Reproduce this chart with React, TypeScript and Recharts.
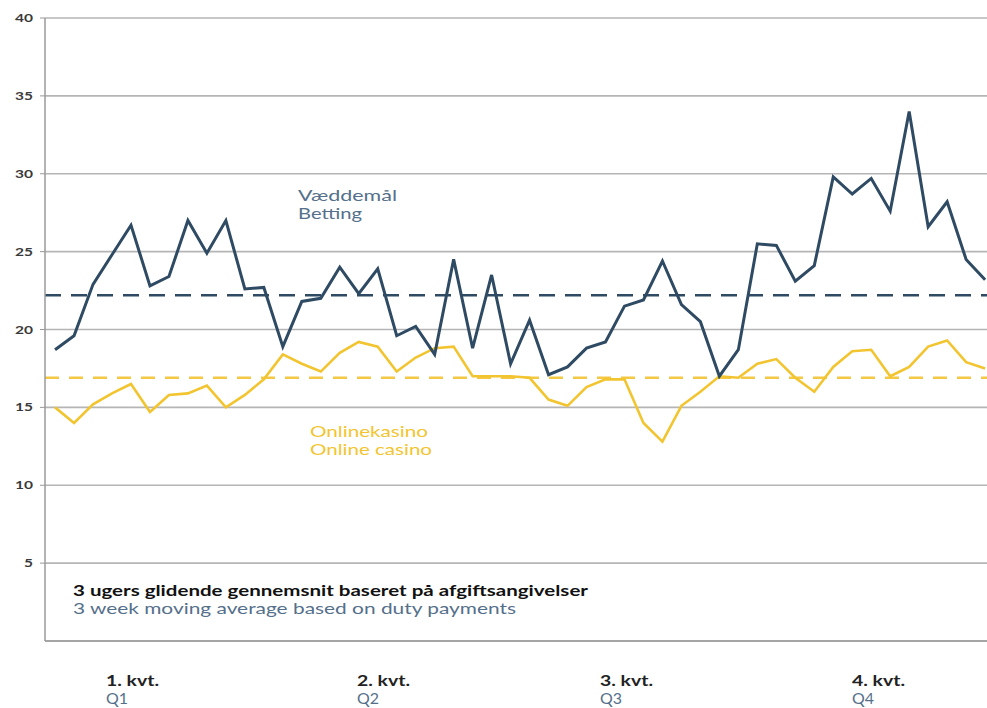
import React from "react";
import { LineChart, Line, XAxis, YAxis, CartesianGrid, ReferenceLine } from "recharts";

const weeks: number[] = Array.from({ length: 50 }, (_, i) => i);
const bettingValues = [
  18.7, 19.6, 22.9, 24.8, 26.7, 22.8, 23.4, 27.0, 24.9, 27.0,
  22.6, 22.7, 18.9, 21.8, 22.0, 24.0, 22.3, 23.9, 19.6, 20.2,
  18.4, 24.5, 18.8, 23.5, 17.8, 20.6, 17.1, 17.6, 18.8, 19.2,
  21.5, 21.9, 24.4, 21.6, 20.5, 17.0, 18.7, 25.5, 25.4, 23.1,
  24.1, 29.8, 28.7, 29.7, 27.6, 34.0, 26.6, 28.2, 24.5, 23.2,
];
const casinoValues = [
  15.0, 14.0, 15.2, 15.9, 16.5, 14.7, 15.8, 15.9, 16.4, 15.0,
  15.8, 16.8, 18.4, 17.8, 17.3, 18.5, 19.2, 18.9, 17.3, 18.2,
  18.8, 18.9, 17.0, 17.0, 17.0, 16.9, 15.5, 15.1, 16.3, 16.8,
  16.8, 14.0, 12.8, 15.1, 16.0, 17.0, 16.9, 17.8, 18.1, 16.9,
  16.0, 17.6, 18.6, 18.7, 17.0, 17.6, 18.9, 19.3, 17.9, 17.5,
];
const bettingAverage = 22.2;
const casinoAverage = 16.9;
const yTicks = [5, 10, 15, 20, 25, 30, 35, 40];
const xTicks: number[] = Array.from({ length: 49 }, (_, i) => i + 0.5);
const quarterLabels = [
  { da: "1. kvt.", en: "Q1" },
  { da: "2. kvt.", en: "Q2" },
  { da: "3. kvt.", en: "Q3" },
  { da: "4. kvt.", en: "Q4" },
];
const seriesLabels = {
  betting: ["Væddemål", "Betting"],
  casino: ["Onlinekasino", "Online casino"],
};
const noteLines = [
  "3 ugers glidende gennemsnit baseret på afgiftsangivelser",
  "3 week moving average based on duty payments",
];

const data = weeks.map((w, i) => ({ w, betting: bettingValues[i], casino: casinoValues[i] }));

const BLUE = "#2f4a63";
const YELLOW = "#f2c530";
const LABEL_BLUE = "#55708b";
const FONT = "Lato, 'Open Sans', sans-serif";

const quarterLeft = [106, 357, 600, 852];

const YTick = (props: any) => {
  const { x, y, payload } = props;
  const s = String(payload.value);
  return (
    <text
      x={x}
      y={y}
      dy={4}
      textAnchor="end"
      fontSize={11}
      fontWeight={700}
      fontFamily={FONT}
      fill="#3a3a3a"
      textLength={s.length > 1 ? 18 : 9}
      lengthAdjust="spacingAndGlyphs"
    >
      {s}
    </text>
  );
};

export default function App() {
  const txt = (
    key: string,
    x: number,
    y: number,
    len: number,
    s: string,
    fill: string,
    weight: number = 400,
  ) => (
    <text
      key={key}
      x={x}
      y={y}
      textLength={len}
      lengthAdjust="spacingAndGlyphs"
      fontSize={15}
      fontWeight={weight}
      fontFamily={FONT}
      fill={fill}
    >
      {s}
    </text>
  );
  return (
    <div style={{ position: "absolute", left: 0, top: 0, width: 987, height: 708, background: "#fff", fontFamily: FONT }}>
      <LineChart width={987} height={708} data={data} margin={{ top: 18, right: 0, left: 0, bottom: 37 }}>
        <CartesianGrid horizontal vertical={false} stroke="#b5b5b5" strokeWidth={1.6} />
        <XAxis
          dataKey="w"
          type="number"
          domain={[-0.53, 49.1]}
          ticks={xTicks}
          tick={false}
          tickSize={4}
          height={30}
          axisLine={{ stroke: "#9a9a9a", strokeWidth: 1.5 }}
          tickLine={{ stroke: "#9a9a9a", strokeWidth: 1 }}
          allowDataOverflow
        />
        <YAxis
          type="number"
          domain={[0, 40]}
          ticks={yTicks}
          width={45}
          tickSize={5}
          tickMargin={7}
          interval={0}
          axisLine={{ stroke: "#9a9a9a", strokeWidth: 1.5 }}
          tickLine={{ stroke: "#9a9a9a", strokeWidth: 1 }}
          tick={<YTick />}
        />
        <ReferenceLine y={bettingAverage} stroke={BLUE} strokeWidth={2.5} strokeDasharray="16 10" />
        <ReferenceLine y={casinoAverage} stroke="#f4c842" strokeWidth={2.5} strokeDasharray="14 10" />
        <Line dataKey="casino" stroke={YELLOW} strokeWidth={2.6} dot={false} isAnimationActive={false} type="linear" />
        <Line dataKey="betting" stroke={BLUE} strokeWidth={3} dot={false} isAnimationActive={false} type="linear" />
      </LineChart>

      <svg width={987} height={708} style={{ position: "absolute", left: 0, top: 0, pointerEvents: "none" }}>
        {txt("b0", 298, 201, 99, seriesLabels.betting[0], LABEL_BLUE)}
        {txt("b1", 298, 219, 64, seriesLabels.betting[1], LABEL_BLUE)}
        {txt("c0", 310, 437, 118, seriesLabels.casino[0], YELLOW)}
        {txt("c1", 310, 455, 122, seriesLabels.casino[1], YELLOW)}
        {txt("n0", 73, 596, 515, noteLines[0], "#111", 700)}
        {txt("n1", 73, 614, 443, noteLines[1], LABEL_BLUE)}
        {quarterLabels.map((q, i) => (
          <g key={q.en}>
            {txt(q.da, quarterLeft[i], 686, 53, q.da, "#222", 700)}
            {txt(q.en, quarterLeft[i], 704, 22, q.en, LABEL_BLUE)}
          </g>
        ))}
      </svg>
    </div>
  );
}
